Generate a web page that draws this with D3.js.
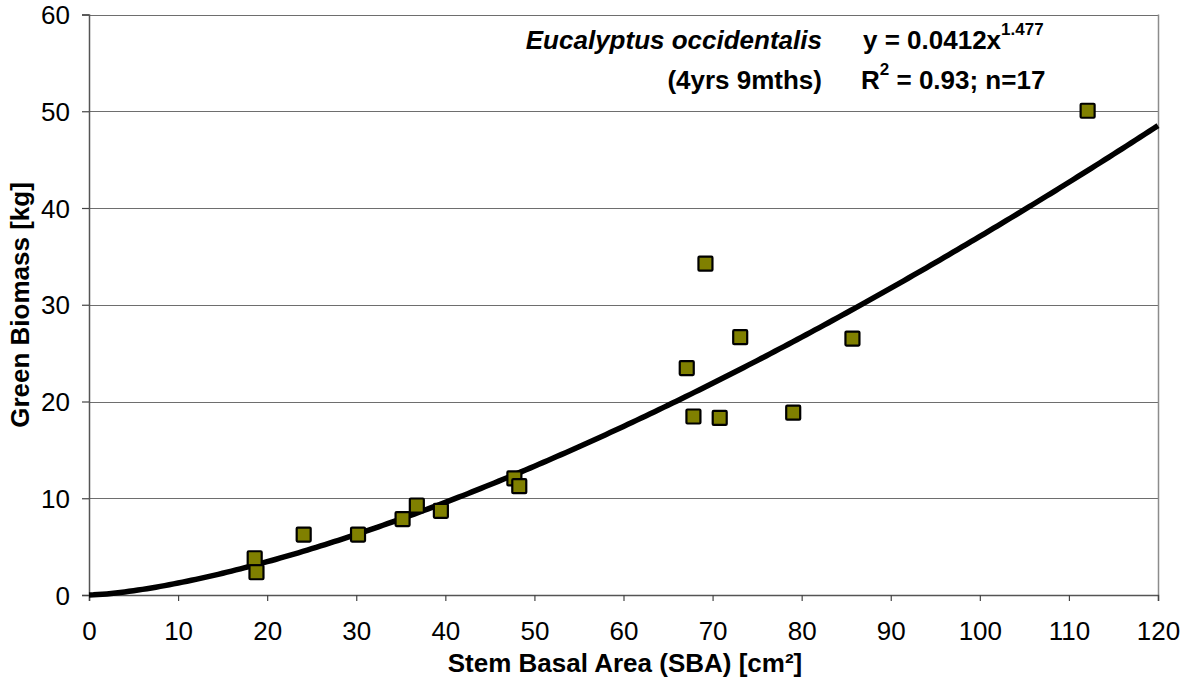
<!DOCTYPE html>
<html>
<head>
<meta charset="utf-8">
<script src="https://cdn.jsdelivr.net/npm/d3@7"></script>
<style>
  html, body { margin: 0; padding: 0; background: #fff; }
  svg { display: block; font-family: "Liberation Sans", Arial, sans-serif; }
</style>
</head>
<body>
<svg id="chart" width="1182" height="686"></svg>
<script>
// Stem basal area (cm²) and green biomass (kg) of sampled trees
const sba     = [18.6, 18.8, 24.1, 30.2, 35.2, 36.8, 39.5, 47.75, 48.3, 67.1, 67.85, 69.2, 70.8, 73.1, 79.05, 85.7, 112.1];
const biomass = [3.8, 2.35, 6.25, 6.25, 7.85, 9.25, 8.7, 12.05, 11.25, 23.45, 18.45, 34.25, 18.3, 26.65, 18.85, 26.5, 50.05];

// Power fit y = a·x^b
const fitA = 0.0412;
const fitB = 1.477;

const xTicks = [0, 10, 20, 30, 40, 50, 60, 70, 80, 90, 100, 110, 120];
const yTicks = [0, 10, 20, 30, 40, 50, 60];

const svg = d3.select("#chart");
const plotLeft = 89, plotRight = 1158, plotTop = 14.5, plotBottom = 595;
const fontSize = 26;

const x = d3.scaleLinear().domain([0, 120]).range([plotLeft, plotRight]);
const y = d3.scaleLinear().domain([0, 60]).range([plotBottom, plotTop]);

// horizontal gridlines
svg.append("g")
  .selectAll("line")
  .data(yTicks.filter(d => d > 0))
  .join("line")
  .attr("x1", plotLeft).attr("x2", plotRight)
  .attr("y1", d => Math.round(y(d)) + 0.5).attr("y2", d => Math.round(y(d)) + 0.5)
  .attr("stroke", "#6e6e6e").attr("stroke-width", 1);

// plot-area border (right edge)
svg.append("line")
  .attr("x1", Math.round(plotRight) + 0.5).attr("x2", Math.round(plotRight) + 0.5)
  .attr("y1", plotTop).attr("y2", plotBottom)
  .attr("stroke", "#8c8c8c").attr("stroke-width", 1.5);

// axes
const xAxis = d3.axisBottom(x).tickValues(xTicks).tickSize(6).tickPadding(21).tickFormat(d3.format("d"));
const yAxis = d3.axisLeft(y).tickValues(yTicks).tickSize(7).tickPadding(12).tickFormat(d3.format("d"));

const gx = svg.append("g").attr("transform", `translate(0,${plotBottom})`).call(xAxis);
const gy = svg.append("g").attr("transform", `translate(${plotLeft},0)`).call(yAxis);

[gx, gy].forEach(g => {
  g.select(".domain").attr("stroke", "#555").attr("stroke-width", 1.5);
  g.selectAll(".tick line").attr("stroke", "#444").attr("stroke-width", 1.2);
  g.selectAll(".tick text")
    .attr("font-family", "Liberation Sans, Arial, sans-serif")
    .attr("font-size", fontSize)
    .attr("fill", "#000");
});
gy.selectAll(".tick text").attr("dy", "0.35em");

// fitted curve
const curvePts = d3.range(0, 120.001, 0.5).map(v => [v, fitA * Math.pow(v, fitB)]);
svg.append("path")
  .datum(curvePts)
  .attr("fill", "none")
  .attr("stroke", "#000")
  .attr("stroke-width", 5.5)
  .attr("stroke-linejoin", "round")
  .attr("d", d3.line().x(d => x(d[0])).y(d => y(d[1])));

// data markers
const size = 14;
svg.append("g")
  .selectAll("rect")
  .data(sba.map((v, i) => [v, biomass[i]]))
  .join("rect")
  .attr("x", d => x(d[0]) - size / 2)
  .attr("y", d => y(d[1]) - size / 2)
  .attr("width", size).attr("height", size)
  .attr("rx", 1)
  .attr("fill", "#808000")
  .attr("stroke", "#000")
  .attr("stroke-width", 2.2);

// axis titles
svg.append("text")
  .attr("x", 625).attr("y", 672)
  .attr("text-anchor", "middle")
  .attr("font-weight", "bold").attr("font-size", fontSize)
  .text("Stem Basal Area (SBA) [cm²]");

svg.append("text")
  .attr("transform", "translate(29,305) rotate(-90)")
  .attr("text-anchor", "middle")
  .attr("font-weight", "bold").attr("font-size", fontSize)
  .text("Green Biomass [kg]");

// equation annotation
const ann = svg.append("g").attr("font-weight", "bold").attr("font-size", fontSize).attr("fill", "#000");
ann.append("text").attr("x", 822).attr("y", 49).attr("text-anchor", "end")
  .attr("font-style", "italic").text("Eucalyptus occidentalis");
ann.append("text").attr("x", 822).attr("y", 89).attr("text-anchor", "end")
  .text("(4yrs 9mths)");

const eq = ann.append("text").attr("x", 863).attr("y", 49);
eq.append("tspan").text(`y = ${fitA}x`);
eq.append("tspan").attr("dy", -14).attr("font-size", 17).text(fitB);

const r2 = ann.append("text").attr("x", 861).attr("y", 89);
r2.append("tspan").text("R");
r2.append("tspan").attr("dy", -14).attr("font-size", 17).text("2");
r2.append("tspan").attr("dy", 14).text(" = 0.93; n=17");
</script>
</body>
</html>
